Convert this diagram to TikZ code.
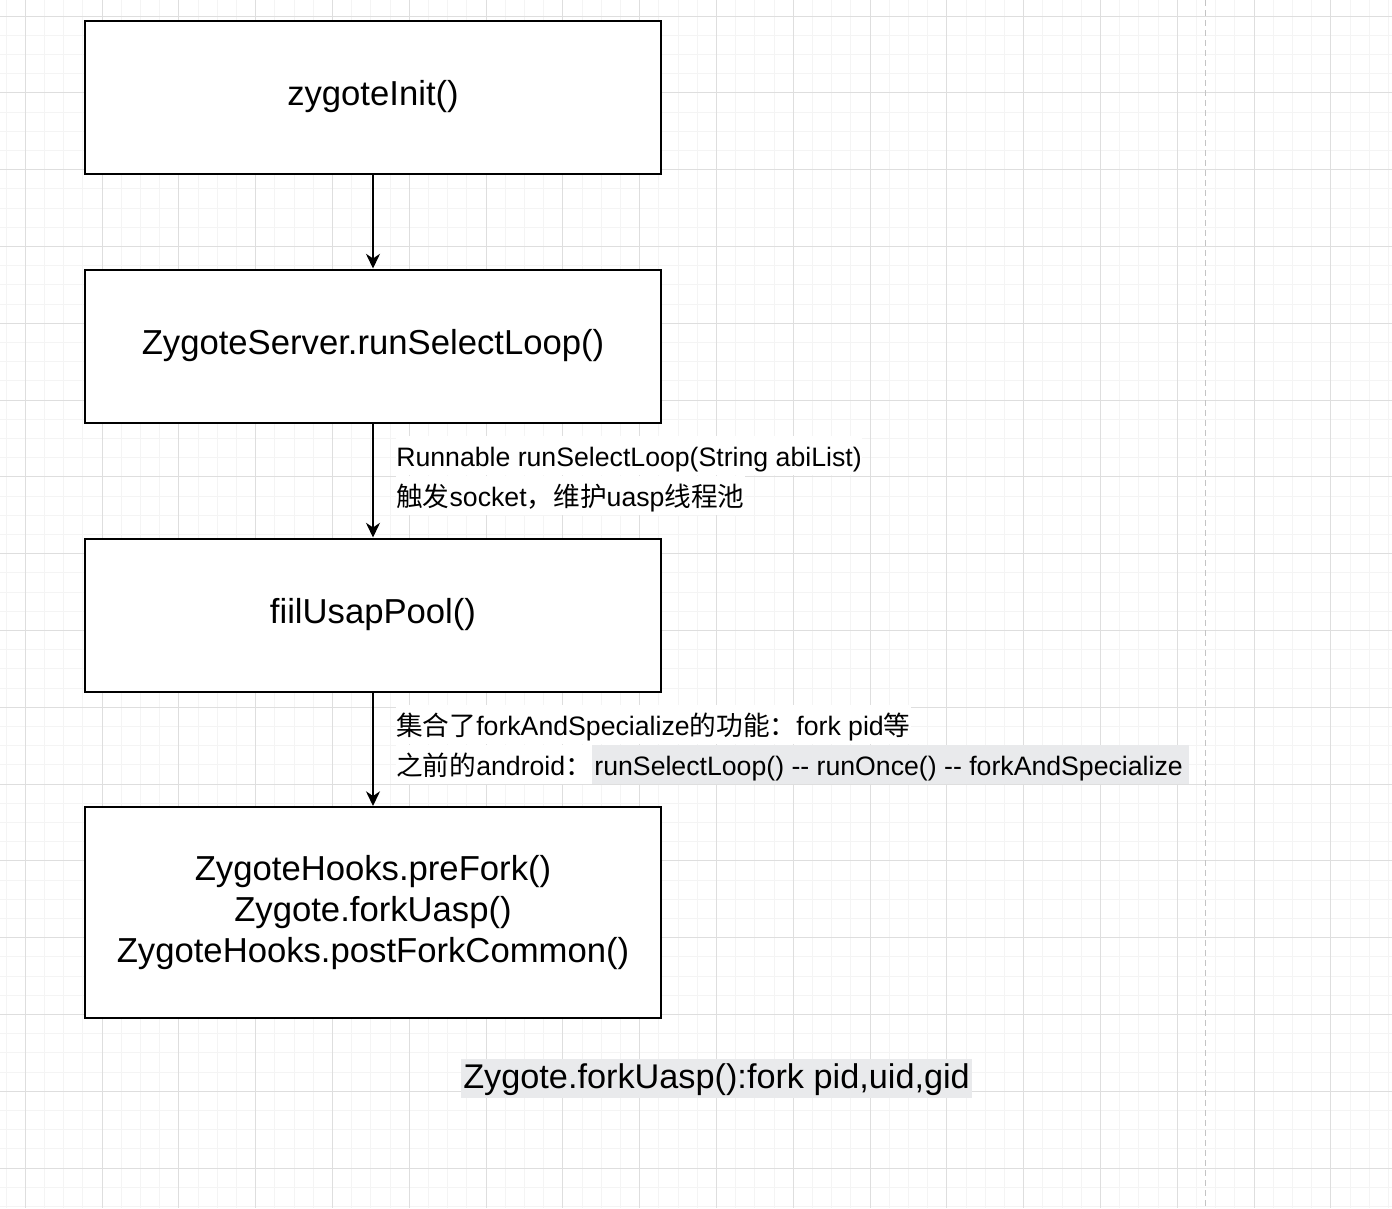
\documentclass[tikz,border=0pt]{standalone}
\usepackage{fontspec}
\setmainfont{Liberation Sans}
\newfontfamily\cjk{Noto Sans CJK SC}
\usetikzlibrary{positioning,arrows.meta}
\definecolor{minorgrid}{RGB}{244,244,244}
\definecolor{majorgrid}{RGB}{222,222,222}
\definecolor{guidegray}{RGB}{196,196,196}
\definecolor{hlgray}{RGB}{233,234,236}
\tikzset{
	box/.style={draw,line width=1.5pt,fill=white,minimum width=432pt,minimum height=114.75pt,align=center,font=\fontsize{26}{31}\selectfont},
	arr/.style={line width=1.1pt,-{Stealth[length=11pt,width=10.5pt,inset=3.5pt]}},
	note/.style={anchor=base west,fill=white,inner xsep=0pt,inner ysep=0pt,text height=22.5pt,text depth=6.75pt,font=\fontsize{20}{30}\selectfont},
	hl/.style={note,fill=hlgray},
	minorline/.style={draw=minorgrid,line width=0.75pt},
	majorline/.style={draw=majorgrid,line width=0.75pt}
}
\begin{document}
\begin{tikzpicture}[x=0.75pt,y=-0.75pt]
	\useasboundingbox (0,0) rectangle (1392,1208);
	\clip (0,0) rectangle (1392,1208);
	\fill[white] (0,0) rectangle (1392,1208);
	% grid
	\foreach \i in {-1,...,72} \draw[minorline] ({25.3+19.2*\i},0) -- ({25.3+19.2*\i},1208);
	\foreach \i in {-1,...,63} \draw[minorline] (0,{16+19.2*\i}) -- (1392,{16+19.2*\i});
	\foreach \i in {0,...,18} \draw[majorline] ({25.3+76.8*\i},0) -- ({25.3+76.8*\i},1208);
	\foreach \i in {0,...,15} \draw[majorline] (0,{16+76.8*\i}) -- (1392,{16+76.8*\i});
	\draw[guidegray,line width=0.9pt,dash pattern=on 4.5pt off 3pt] (1205.5,0) -- (1205.5,1208);

	\node[box] (init) at (373,97) {zygoteInit()};
	\node[box] (server) at (373,346) {ZygoteServer.runSelectLoop()};
	\node[box] (pool) at (373,615) {fiilUsapPool()};
	\node[box,minimum height=158.25pt] (fork) at (373,912.5) {ZygoteHooks.preFork()\\Zygote.forkUasp()\\ZygoteHooks.postForkCommon()};

	\draw[arr] (init) -- (server);
	\draw[arr] (server) -- (pool);
	\draw[arr] (pool) -- (fork);

	\node[note] (loopsig) at (396,466) {Runnable runSelectLoop(String abiList)};
	\node[note] (loopdesc) at (396,506) {{\cjk 触发}socket{\cjk ，维护}uasp{\cjk 线程池}};
	\node[note] (pooldesc) at (396,735) {{\cjk 集合了}forkAndSpecialize{\cjk 的功能：}fork pid{\cjk 等}};
	\node[note] (oldpre) at (396,775) {{\cjk 之前的}android{\cjk ：}};
	\node[hl,inner xsep=1.5pt] (oldflow) at (oldpre.base east) {runSelectLoop() -{}- runOnce() -{}- forkAndSpecialize\,};

	\node[hl,inner xsep=1.5pt,text height=21.75pt,text depth=7.5pt,font=\fontsize{25.7}{31}\selectfont] (forknote) at (461,1088) {Zygote.forkUasp():fork pid,uid,gid};
\end{tikzpicture}
\end{document}
